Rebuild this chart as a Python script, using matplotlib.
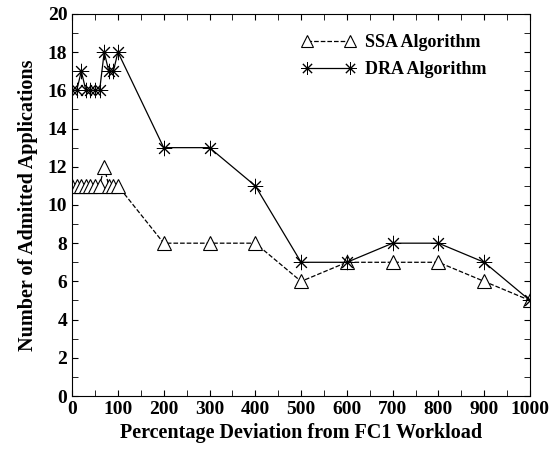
import matplotlib.pyplot as plt
from matplotlib.ticker import MultipleLocator

plt.rcParams['font.family'] = 'Liberation Serif'
plt.rcParams['font.weight'] = 'bold'

# data
deviation = [0, 10, 20, 30, 40, 50, 60, 70, 80, 90, 100,
             200, 300, 400, 500, 600, 700, 800, 900, 1000]
ssa = [11, 11, 11, 11, 11, 11, 11, 12, 11, 11, 11,
       8, 8, 8, 6, 7, 7, 7, 6, 5]
dra = [16, 16, 17, 16, 16, 16, 16, 18, 17, 17, 18,
       13, 13, 11, 7, 7, 8, 8, 7, 5]

fig = plt.figure(figsize=(5.55, 4.49), dpi=100)
ax = fig.add_axes([0.13, 0.118, 0.825, 0.851])

ax.plot(deviation, ssa, color='black', linestyle='--', linewidth=0.9,
        marker='^', markersize=10, markerfacecolor='white',
        markeredgecolor='black', markeredgewidth=0.8, label='SSA Algorithm')
ax.plot(deviation, dra, color='black', linestyle='-', linewidth=0.9,
        marker=(8, 2, 0), markersize=11, markeredgewidth=0.7,
        label='DRA Algorithm')

ax.set_xlim(0, 1000)
ax.set_ylim(0, 20)
ax.set_xticks(range(0, 1001, 100))
ax.set_yticks(range(0, 21, 2))
ax.xaxis.set_minor_locator(MultipleLocator(50))
ax.yaxis.set_minor_locator(MultipleLocator(1))
ax.tick_params(which='both', direction='in', top=True, right=True,
               labelsize=14, length=4)

ax.set_xlabel('Percentage Deviation from FC1 Workload', fontsize=14.5,
              fontweight='bold', labelpad=4)
ax.set_ylabel('Number of Admitted Applications', fontsize=14.5,
              fontweight='bold', labelpad=7)

ax.legend(loc='upper right', bbox_to_anchor=(0.94, 0.99), frameon=False,
          numpoints=2, fontsize=13, handlelength=3, handletextpad=0.5,
          labelspacing=0.55, markerscale=0.85)

plt.savefig('out.png', dpi=100)
